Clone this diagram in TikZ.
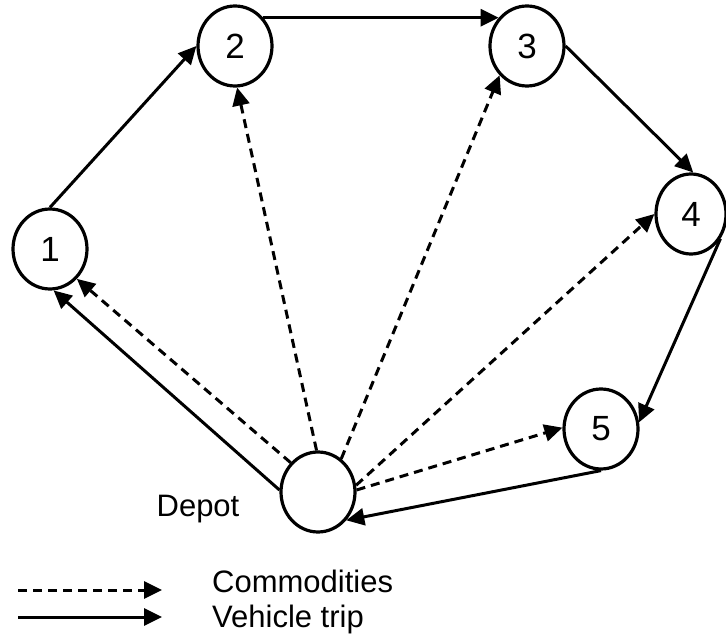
\documentclass[tikz,border=0pt]{standalone}
\usepackage{fontspec}
\setmainfont{Liberation Sans}
\usetikzlibrary{arrows.meta,shapes.geometric}
\begin{document}
\begin{tikzpicture}[x=1pt,y=-1pt,
  nd/.style={draw, ellipse, line width=3.2pt, minimum width=74pt, minimum height=80pt, inner sep=0pt, font=\fontsize{35}{40}\selectfont},
  trip/.style={line width=3pt, -{Triangle[length=18pt,width=17pt]}},
  comm/.style={trip, dash pattern=on 9pt off 6pt},
  lbl/.style={font=\fontsize{31}{37}\selectfont, inner sep=0pt}]
\useasboundingbox (0,0) rectangle (726,639);
\node[nd] (n1) at (50,249) {1};
\node[nd] (n2) at (235,46) {2};
\node[nd] (n3) at (527,46) {3};
\node[nd, minimum width=70pt] (n4) at (691,214) {4};
\node[nd] (n5) at (601,429) {5};
\node[nd] (d) at (318,492) {};
\node[lbl, anchor=base] (dl) at (198,516) {Depot};
\coordinate (la1) at (18,590);
\coordinate (la2) at (162,590);
\coordinate (lb1) at (18,617);
\coordinate (lb2) at (162,617);
\node[lbl, anchor=base west] (lc) at (212,592) {Commodities};
\node[lbl, anchor=base west] (lv) at (212,627) {Vehicle trip};
\draw[trip] (d.177) -- (n1.-85);
\draw[trip] (n1.north) -- (n2.180);
\draw[trip] (n2.45) -- (n3.135);
\draw[trip] (n3.east) -- (n4.87);
\draw[trip] (n4.-40) -- (n5.10);
\draw[trip] (n5.south) -- (d.-45);
\draw[comm] (d.133) -- (n1.-48);
\draw[comm] (d.92) -- (n2.-87);
\draw[comm] (d.55) -- (n3.-133);
\draw[comm] (d.10) -- (n4.180);
\draw[comm] (d.3) -- (n5.178);
\draw[comm] (la1) -- (la2);
\draw[trip] (lb1) -- (lb2);
\end{tikzpicture}
\end{document}
